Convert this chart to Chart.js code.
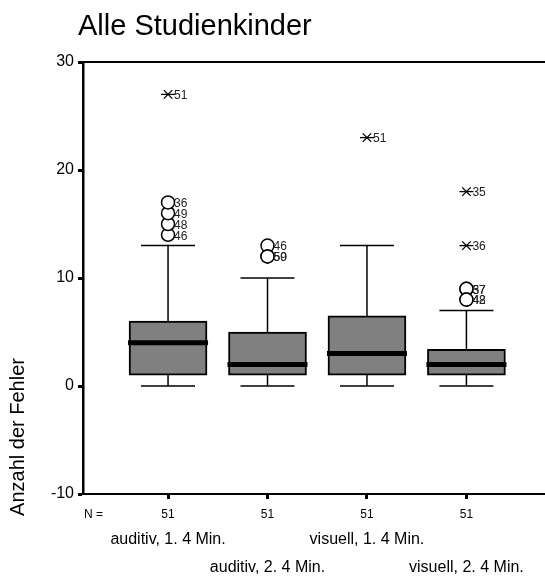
<!DOCTYPE html>
<html><head><meta charset="utf-8">
<script src="https://cdn.jsdelivr.net/npm/chart.js@4.4.1/dist/chart.umd.min.js"></script>
<style>html,body{margin:0;padding:0;background:#fff}#wrap{width:545px;height:578px}</style>
</head><body><div id="wrap"><canvas id="c" width="545" height="578"></canvas></div>
<script>
// ---- data ----
const categories = ["auditiv, 1. 4 Min.", "auditiv, 2. 4 Min.", "visuell, 1. 4 Min.", "visuell, 2. 4 Min."];
const catPositions = [1, 2, 3, 4];
const nValues = [51, 51, 51, 51];
const whiskerLow = [0, 0, 0, 0];
const q1 = [1, 1, 1, 1];
const median = [4, 2, 3, 2];
const q3 = [6, 5, 6.5, 3.4];
const whiskerHigh = [13, 10, 13, 7];
const outlierCat = [1, 1, 1, 1, 2, 2, 2, 4, 4, 4, 4];
const outlierValue = [14, 15, 16, 17, 13, 12, 12, 9, 9, 8, 8];
const outlierId = ["46", "48", "49", "36", "46", "50", "59", "57", "37", "42", "48"];
const extremeCat = [1, 3, 4, 4];
const extremeValue = [27, 23, 13, 18];
const extremeId = ["51", "51", "36", "35"];
const yTicks = [-10, 0, 10, 20, 30];
const titleText = "Alle Studienkinder";
const yTitle = "Anzahl der Fehler";

const FONT = "'Liberation Sans', Arial, sans-serif";

const whiskerSets = catPositions.map((c, i) => ({
  type: 'line',
  data: [{x: c, y: whiskerLow[i]}, {x: c, y: whiskerHigh[i]}],
  borderColor: '#000', borderWidth: 1.5, pointRadius: 0, order: 10
}));

const datasets = [
  ...whiskerSets,
  { type: 'bar', data: catPositions.map((c, i) => ({x: c, y: [q1[i], q3[i]]})),
    backgroundColor: '#808080', borderColor: '#000', borderWidth: 2, borderSkipped: false,
    barThickness: 78, order: 8 },
  { type: 'scatter', data: catPositions.flatMap((c, i) => [{x: c, y: whiskerLow[i]}, {x: c, y: whiskerHigh[i]}]),
    pointStyle: 'line', pointRadius: 27, pointBorderWidth: 1.5, pointBorderColor: '#000', order: 6 },
  { type: 'scatter', data: catPositions.map((c, i) => ({x: c, y: median[i]})),
    pointStyle: 'line', pointRadius: 40, pointBorderWidth: 5, pointBorderColor: '#000', order: 4 },
  { type: 'scatter', data: outlierCat.map((c, i) => ({x: c, y: outlierValue[i]})), labels: outlierId,
    pointStyle: 'circle', pointRadius: 6.5, pointBorderWidth: 1.5, pointBorderColor: '#000', pointBackgroundColor: '#fff', order: 2 },
  { type: 'scatter', data: extremeCat.map((c, i) => ({x: c, y: extremeValue[i]})), labels: extremeId,
    pointStyle: 'crossRot', pointRadius: 6, pointBorderWidth: 1.3, pointBorderColor: '#000', order: 1 },
  { type: 'scatter', data: extremeCat.map((c, i) => ({x: c, y: extremeValue[i]})),
    pointStyle: 'line', pointRadius: 7, pointBorderWidth: 1.3, pointBorderColor: '#000', order: 0 }
];

const decor = {
  id: 'decor',
  afterDatasetsDraw(chart) {
    const ctx = chart.ctx;
    ctx.save();
    ctx.fillStyle = '#222';
    ctx.font = "12px " + FONT;
    ctx.textBaseline = 'middle';
    ctx.textAlign = 'left';
    chart.data.datasets.forEach((ds, di) => {
      if (!ds.labels) return;
      const meta = chart.getDatasetMeta(di);
      meta.data.forEach((el, j) => ctx.fillText(ds.labels[j], el.x + 6, el.y + 1.5));
    });
    ctx.restore();
  },
  afterDraw(chart) {
    const ctx = chart.ctx, a = chart.chartArea, xs = chart.scales.x;
    ctx.save();
    ctx.strokeStyle = '#000'; ctx.lineWidth = 2;
    ctx.beginPath(); ctx.moveTo(a.left, a.top); ctx.lineTo(a.right, a.top); ctx.stroke();
    ctx.fillStyle = '#000';
    ctx.font = "29px " + FONT; ctx.textAlign = 'left'; ctx.textBaseline = 'alphabetic';
    ctx.fillText(titleText, 78, 35);
    ctx.font = "16px " + FONT; ctx.textAlign = 'center'; ctx.textBaseline = 'middle';
    categories.forEach((c, i) => {
      const x = xs.getPixelForValue(catPositions[i]);
      ctx.fillText(c, x, i % 2 === 0 ? 540 : 568);
    });
    ctx.font = "12px " + FONT; ctx.textAlign = 'left';
    ctx.fillText("N =", 84, 515);
    ctx.translate(18, 437); ctx.rotate(-Math.PI / 2);
    ctx.font = "20px " + FONT; ctx.textAlign = 'center';
    ctx.fillText(yTitle, 0, 0);
    ctx.restore();
  }
};

new Chart(document.getElementById('c'), {
  type: 'bar',
  data: { datasets },
  options: {
    responsive: false, animation: false, devicePixelRatio: 1, events: [],
    layout: { autoPadding: false, padding: { left: 0, top: 62, right: 0, bottom: 0 } },
    plugins: { legend: { display: false }, tooltip: { enabled: false }, title: { display: false } },
    scales: {
      x: {
        type: 'linear', min: 0.145, max: 4.79, offset: false,
        afterBuildTicks: s => { s.ticks = catPositions.map(v => ({ value: v })); },
        afterFit: s => { s.height = 84; },
        ticks: { callback: (v, i) => String(nValues[i]), font: { size: 12, family: FONT }, color: '#000', padding: 8, maxRotation: 0, autoSkip: false },
        grid: { offset: false, drawOnChartArea: false, drawTicks: true, tickLength: 5, tickWidth: 3, color: '#000' },
        border: { display: true, color: '#000', width: 2 }
      },
      y: {
        min: -10, max: 30,
        afterBuildTicks: s => { s.ticks = yTicks.map(v => ({ value: v })); },
        afterFit: s => { s.width = 83; },
        ticks: { font: { size: 16, family: FONT }, color: '#000', padding: 4 },
        grid: { drawOnChartArea: false, drawTicks: true, tickLength: 5, tickWidth: 3, color: '#000' },
        border: { display: true, color: '#000', width: 2.5 }
      }
    }
  },
  plugins: [decor]
});
</script></body></html>
